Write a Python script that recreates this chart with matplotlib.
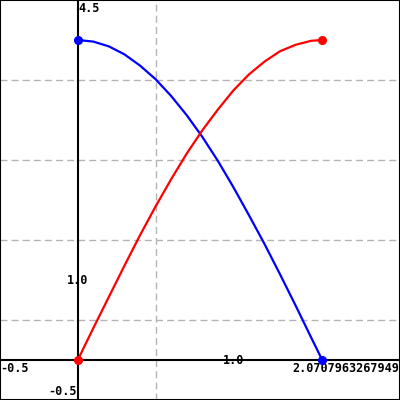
import matplotlib
matplotlib.use('Agg')
import matplotlib.pyplot as plt

# 数据
x_vals = [0.0, 0.1, 0.2, 0.3, 0.4, 0.5, 0.6, 0.7, 0.8, 0.9, 1.0, 1.1, 1.2, 1.3, 1.4, 1.5, 1.5708]
blue_y = [4.0, 3.98, 3.92, 3.82, 3.68, 3.51, 3.30, 3.06, 2.79, 2.49, 2.16, 1.81, 1.45, 1.07, 0.68, 0.28, 0.0]
red_y = [0.0, 0.40, 0.79, 1.18, 1.56, 1.92, 2.26, 2.58, 2.87, 3.13, 3.37, 3.57, 3.73, 3.86, 3.94, 3.99, 4.0]

x_min, x_max = -0.5, 2.0707963267949
y_min, y_max = -0.5, 4.5
v_grid = [0.5]
h_grid = [0.5, 1.5, 2.5, 3.5]

fig = plt.figure(figsize=(4, 4), dpi=100)
ax = fig.add_axes([0, 0, 1, 1])
ax.set_xlim(x_min, x_max)
ax.set_ylim(y_min, y_max)
ax.set_xticks([])
ax.set_yticks([])
for s in ax.spines.values():
    s.set_color('black')
    s.set_linewidth(1.5)

# 网格
for gx in v_grid:
    ax.axvline(gx, color='#b4b4b4', lw=1, linestyle=(0, (5, 3)), zorder=1)
for gy in h_grid:
    ax.axhline(gy, color='#b4b4b4', lw=1, linestyle=(0, (5, 3)), zorder=1)

# 坐标轴
ax.axhline(0, color='black', lw=1.5, zorder=2)
ax.axvline(0, color='black', lw=1.5, zorder=2)

# 曲线
ax.plot(x_vals, blue_y, color='blue', lw=1.6, zorder=3)
ax.plot(x_vals, red_y, color='red', lw=1.6, zorder=3)
ax.plot([x_vals[0], x_vals[-1]], [blue_y[0], blue_y[-1]], 'o', color='blue', ms=5.5, zorder=4)
ax.plot([x_vals[0], x_vals[-1]], [red_y[0], red_y[-1]], 'o', color='red', ms=5.5, zorder=4)

# 标签
font = dict(family='DejaVu Sans Mono', fontweight='bold', fontsize=8.5, color='black')
ax.text(0.005, y_max - 0.02, '4.5', ha='left', va='top', **font)
ax.text(x_min + 0.003, -0.02, '-0.5', ha='left', va='top', **font)
ax.text(-0.005, y_min + 0.02, '-0.5', ha='right', va='bottom', **font)
ax.text(0, 1.0, '1.0', ha='center', va='center', **font)
ax.text(1.0, 0.0, '1.0', ha='center', va='center', **font)
ax.text(x_max - 0.005, -0.02, '2.0707963267949', ha='right', va='top', **font)

fig.savefig('out.png', dpi=100)
